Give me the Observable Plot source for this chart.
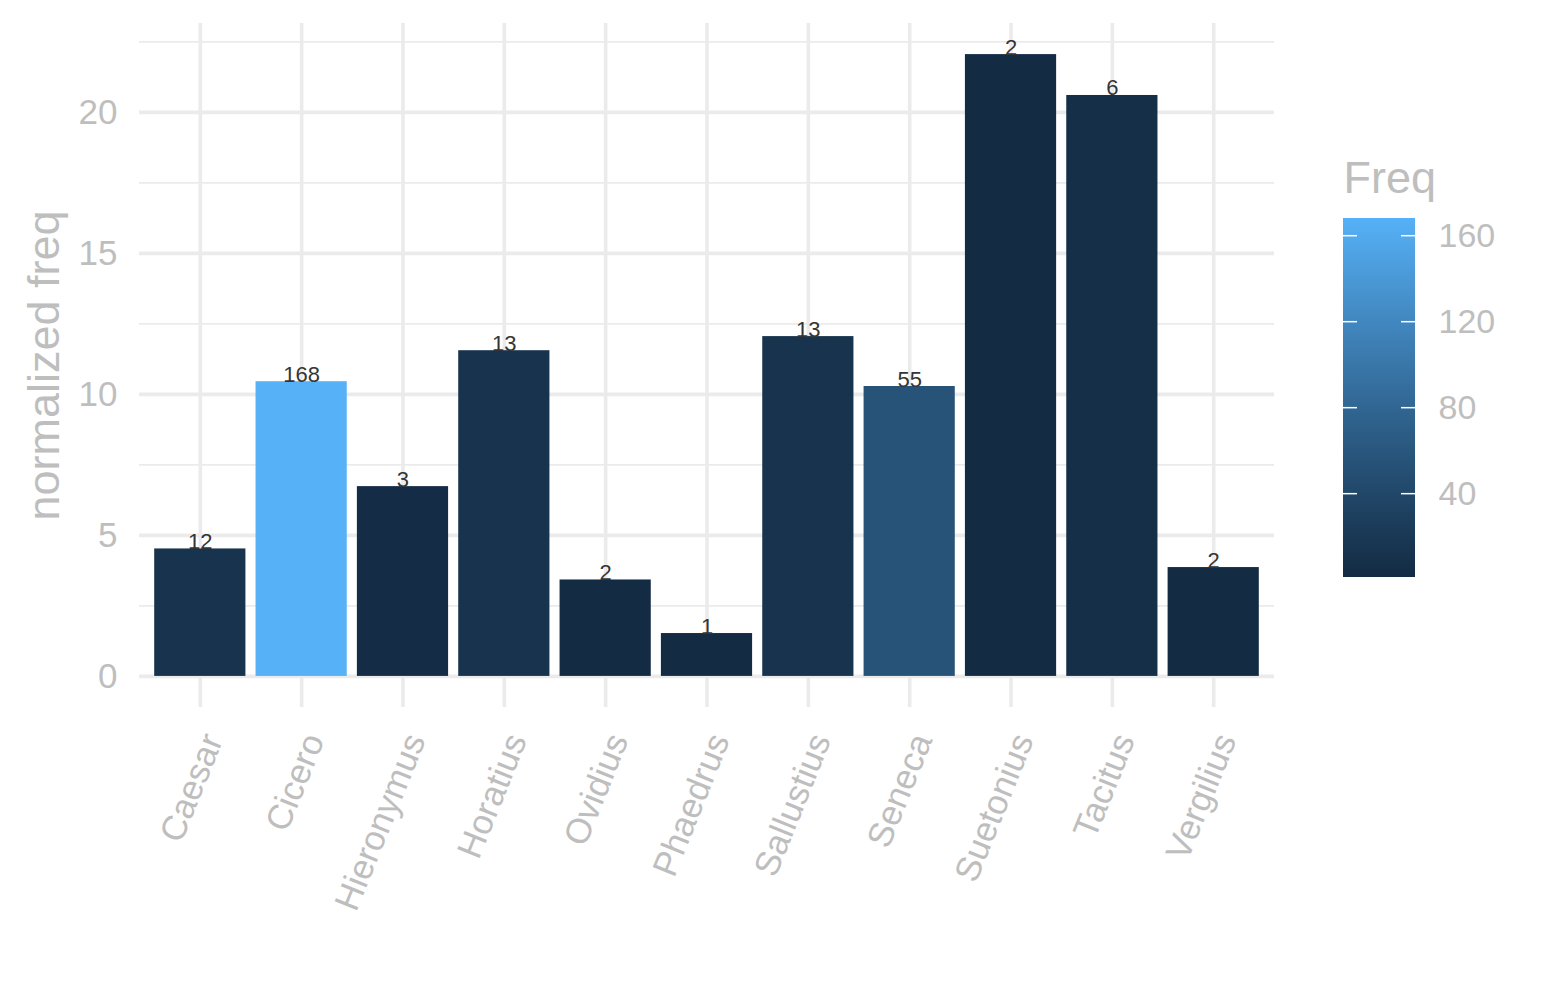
<!DOCTYPE html>
<html><head><meta charset="utf-8">
<script src="https://cdn.jsdelivr.net/npm/d3@7"></script>
<script src="https://cdn.jsdelivr.net/npm/@observablehq/plot@0.6"></script>
<style>
body{margin:0;background:#fff;font-family:"Liberation Sans",Arial,Helvetica,sans-serif;}
#wrap{position:relative;width:1545px;height:1000px;overflow:hidden;}
#wrap > svg{position:absolute;}
</style></head><body><div id="wrap"></div>
<script>
const authors = ["Caesar","Cicero","Hieronymus","Horatius","Ovidius","Phaedrus","Sallustius","Seneca","Suetonius","Tacitus","Vergilius"];
const normFreq = [4.52, 10.45, 6.73, 11.55, 3.42, 1.52, 12.05, 10.28, 22.05, 20.6, 3.86];
const freq = [12, 168, 3, 13, 2, 1, 13, 55, 2, 6, 2];
const yMajor = [0, 5, 10, 15, 20];
const yMinor = [2.5, 7.5, 12.5, 17.5, 22.5];
const legendTicks = [40, 80, 120, 160];

const data = authors.map((a, i) => ({author: a, value: normFreq[i], freq: freq[i]}));
const fMin = d3.min(freq), fMax = d3.max(freq);
const colorOpts = {type: "linear", domain: [fMin, fMax], range: ["#132B43", "#56B1F7"], interpolate: "lab"};
const grey = "#bebebe";
const grid = "#ebebeb";
const font = '"Liberation Sans", Arial, Helvetica, sans-serif';
const yMax = d3.max(normFreq);
const ex = yMax * 0.05;

const main = Plot.plot({
  width: 1545, height: 1000,
  marginLeft: 139, marginRight: 271, marginTop: 23, marginBottom: 293,
  style: {fontFamily: font, background: "transparent"},
  x: {domain: authors, paddingInner: 0.1, paddingOuter: 0.15, round: false, axis: null},
  y: {domain: [-ex, yMax + ex], axis: null},
  color: colorOpts,
  marks: [
    Plot.ruleY(yMinor, {y: d => d, stroke: grid, strokeWidth: 1.8}),
    Plot.ruleY(yMajor, {y: d => d, stroke: grid, strokeWidth: 3.6}),
    Plot.ruleX(authors, {x: d => d, stroke: grid, strokeWidth: 3.6}),
    Plot.barY(data, {x: "author", y: "value", fill: "freq"}),
    Plot.text(data, {x: "author", y: "value", text: d => String(d.freq), lineAnchor: "bottom", fontSize: 22, fill: "#353535"}),
    Plot.text(yMajor, {y: d => d, text: d => String(d), frameAnchor: "left", textAnchor: "end", dx: -22, fontSize: 35, fill: grey}),
    Plot.text(authors, {x: d => d, text: d => d, frameAnchor: "bottom", rotate: -68, textAnchor: "end", lineAnchor: "top", dx: 0, dy: 23, fontSize: 35, fill: grey}),
    Plot.text(["normalized freq"], {text: d => d, frameAnchor: "left", textAnchor: "middle", rotate: -90, dx: -95, fontSize: 45, fill: grey})
  ]
});
main.style.left = "0px"; main.style.top = "0px";
document.getElementById("wrap").appendChild(main);

const nbin = 360;
const stepF = (fMax - fMin) / nbin;
const bins = d3.range(nbin).map(i => fMin + i * stepF);
const legend = Plot.plot({
  width: 200, height: 440,
  marginLeft: 0, marginRight: 0, marginTop: 0, marginBottom: 0,
  style: {fontFamily: font, background: "transparent"},
  x: {domain: [0, 1], range: [13, 85], axis: null},
  y: {domain: [fMin, fMax], range: [427, 68], axis: null},
  color: colorOpts,
  marks: [
    Plot.rect(bins, {x1: 0, x2: 1, y1: d => d, y2: d => Math.min(fMax, d + stepF * 1.5), fill: d => d + stepF / 2, shapeRendering: "crispEdges"}),
    Plot.ruleY(legendTicks, {y: d => d, x1: 0, x2: 14 / 72, stroke: "white", strokeWidth: 1.5}),
    Plot.ruleY(legendTicks, {y: d => d, x1: 1 - 14 / 72, x2: 1, stroke: "white", strokeWidth: 1.5}),
    Plot.text(legendTicks, {y: d => d, x: 1, dx: 23, text: d => String(d), textAnchor: "start", fontSize: 34, fill: grey}),
    Plot.text(["Freq"], {text: d => d, frameAnchor: "top-left", dx: 13, dy: 42, textAnchor: "start", lineAnchor: "bottom", fontSize: 45, fill: grey})
  ]
});
legend.style.left = "1330px"; legend.style.top = "150px";
document.getElementById("wrap").appendChild(legend);
</script>
</body></html>
